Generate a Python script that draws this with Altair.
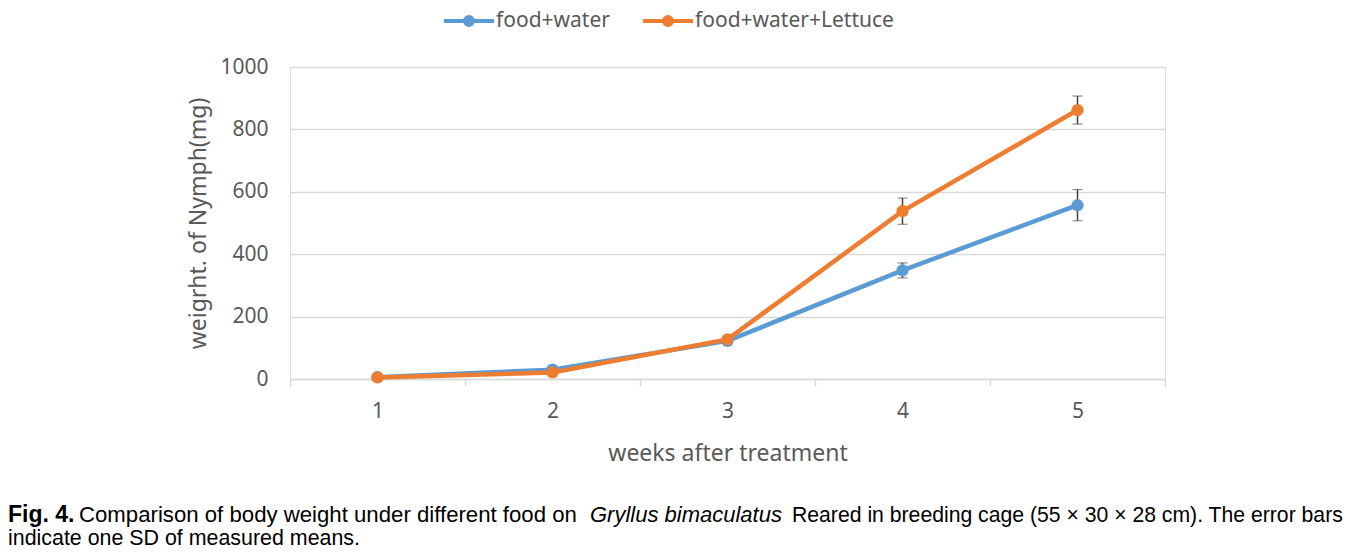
import altair as alt
import pandas as pd

weeks = ["1", "2", "3", "4", "5"]
series = ["food+water", "food+water+Lettuce"]
mean_water = [6, 30, 122, 348, 557]
sd_water = [2, 4, 8, 24, 50]
mean_lettuce = [5, 21, 127, 538, 862]
sd_lettuce = [2, 3, 8, 42, 45]

rows = []
for s, means, sds in [(series[0], mean_water, sd_water), (series[1], mean_lettuce, sd_lettuce)]:
    for w, m, sd in zip(weeks, means, sds):
        rows.append({"week": w, "series": s, "mean": m, "lo": m - sd, "hi": m + sd})
df = pd.DataFrame(rows)

FONT = "Noto Sans"
GRAY = "#595959"
GRID = "#d9d9d9"
colors = ["#5B9BD5", "#ED7D31"]
YTITLE = "weigrht. of Nymph(mg)"

W, H = 875, 312

x_enc = alt.X("week:O", sort=weeks,
              scale=alt.Scale(paddingInner=0, paddingOuter=0),
              axis=alt.Axis(title="weeks after treatment", labelAngle=0, tickBand="extent",
                            grid=False, domainColor=GRID, domainWidth=1.5,
                            tickColor=GRID, tickWidth=1.5, tickSize=7,
                            labelFont=FONT, labelFontSize=21, labelColor=GRAY,
                            labelBaseline="middle", labelPadding=25,
                            titleFont=FONT, titleFontSize=23, titleColor=GRAY,
                            titleFontWeight="normal", titleX=W / 2, titleY=74,
                            titleBaseline="middle"))
y_scale = alt.Scale(domain=[0, 1000])
y_axis = alt.Axis(title=YTITLE, values=[0, 200, 400, 600, 800, 1000], format="d",
                  domain=False, ticks=False, gridColor=GRID, gridWidth=1.5,
                  labelFont=FONT, labelFontSize=21, labelColor=GRAY, labelPadding=22,
                  titleFont=FONT, titleFontSize=23, titleColor=GRAY,
                  titleFontWeight="normal", titleX=-92, titleY=H / 2,
                  titleAngle=-90, titleAlign="center", titleBaseline="middle")
y_enc = alt.Y("mean:Q", scale=y_scale, axis=y_axis, title=YTITLE)
color_enc = alt.Color("series:N", scale=alt.Scale(domain=series, range=colors),
                      legend=alt.Legend(title=None, orient="none", direction="horizontal",
                                        legendX=152, legendY=-73, padding=0,
                                        symbolType="M-1,0L1,0M-0.08,0A0.08,0.08,0,1,1,0.08,0A0.08,0.08,0,1,1,-0.08,0M-0.16,0A0.16,0.16,0,1,1,0.16,0A0.16,0.16,0,1,1,-0.16,0",
                                        symbolSize=2500, symbolStrokeWidth=4,
                                        labelFont=FONT, labelFontSize=21, labelColor=GRAY,
                                        labelOffset=0, columnPadding=25, labelLimit=400))

base = alt.Chart(df)

err = base.mark_errorbar(ticks={"size": 10, "strokeWidth": 1.5, "color": "#404040"},
                         rule={"strokeWidth": 1.5, "color": "#404040"},
                         color="#404040").encode(
    x=alt.X("week:O", sort=weeks), y=alt.Y("lo:Q", scale=y_scale, title=YTITLE), y2="hi:Q")

lines = base.mark_line(strokeWidth=4.5).encode(x=x_enc, y=y_enc, color=color_enc)
points = base.mark_point(filled=True, size=150, opacity=1).encode(
    x=alt.X("week:O", sort=weeks), y=alt.Y("mean:Q", scale=y_scale, title=YTITLE),
    color=alt.Color("series:N", scale=alt.Scale(domain=series, range=colors), legend=None))

one = alt.Data(values=[{}])
CAP = "Liberation Sans"
def cap(text, px, py, weight="normal", style="normal", size=21.4):
    return alt.Chart(one).mark_text(text=text, font=CAP, fontSize=size, fontWeight=weight,
                                    fontStyle=style, align="left", baseline="alphabetic",
                                    color="#000000").encode(
        x=alt.value(px - 290), y=alt.value(py - 67))

captions = [
    cap("Fig. 4.", 8, 522, weight="bold", size=23),
    cap("Comparison of body weight under different food on", 79, 522, size=22.2),
    cap("Gryllus bimaculatus", 590, 522, style="italic", size=22),
    cap("Reared in breeding cage (55 \u00d7 30 \u00d7 28 cm). The error bars", 792, 522,
        size=21.2),
    cap("indicate one SD of measured means.", 8, 545),
]

chart = alt.layer(
    lines.transform_filter(alt.datum.series == series[0]),
    err.transform_filter(alt.datum.series == series[0]),
    points.transform_filter(alt.datum.series == series[0]),
    lines.transform_filter(alt.datum.series == series[1]),
    err.transform_filter(alt.datum.series == series[1]),
    points.transform_filter(alt.datum.series == series[1]),
    *captions,
).properties(
    width=W, height=H,
    autosize=alt.AutoSizeParams(type="none"),
    padding={"left": 282, "top": 59, "right": 186, "bottom": 169},
).configure_view(stroke=None).configure(background="white")

chart.save("out.html", embed_options={"renderer": "svg", "actions": False})
